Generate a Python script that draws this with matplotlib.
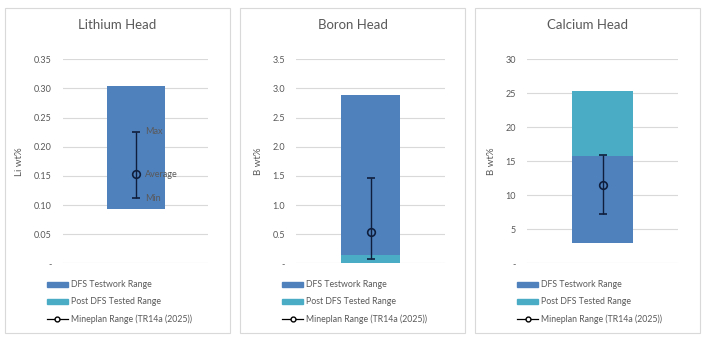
import matplotlib
matplotlib.use("Agg")
import matplotlib.pyplot as plt
from matplotlib.patches import Patch, Rectangle
from matplotlib.lines import Line2D
import numpy as np

plt.rcParams['font.family'] = ['Lato', 'DejaVu Sans']

titles = ['Lithium Head', 'Boron Head', 'Calcium Head']
ylabels = ['Li wt%', 'B wt%', 'B wt%']
dfs_low = [0.094, 0.15, 2.95]
dfs_high = [0.304, 2.88, 15.8]
post_low = [0.0, 0.01, 15.8]
post_high = [0.0, 0.15, 25.35]
mine_min = [0.112, 0.08, 7.25]
mine_avg = [0.153, 0.53, 11.45]
mine_max = [0.226, 1.47, 15.9]
y_max = [0.35, 3.5, 30]
y_step = [0.05, 0.5, 5]
y_fmt = ['{:.2f}', '{:.1f}', '{:.0f}']
annot_labels = ['Max', 'Average', 'Min']
legend_labels = ['DFS Testwork Range', 'Post DFS Tested Range', 'Mineplan Range (TR14a (2025))']

BLUE = '#4f81bd'
TEAL = '#4bacc6'
GRAY = '#595959'
GRID = '#d9d9d9'
ERR = '#0f1e3c'

W, H = 706, 339
fig = plt.figure(figsize=(W / 100, H / 100), dpi=100)

panels = [(5, 230), (240, 465), (475, 700)]
axes_x = [(63, 208), (296, 445), (527, 678)]
ax_top, ax_bot = 59.3, 263.3

for i in range(3):
    px0, px1 = panels[i]
    fig.patches.append(Rectangle((px0 / W, 1 - 333 / H), (px1 - px0) / W, (333 - 8) / H,
                                 transform=fig.transFigure, fill=False, edgecolor=GRID, lw=0.8))
    fig.text((px0 + px1) / 2 / W, 1 - 25 / H, titles[i], ha='center', va='center',
             fontsize=9.5, color=GRAY)
    x0, x1 = axes_x[i]
    ax = fig.add_axes([x0 / W, 1 - ax_bot / H, (x1 - x0) / W, (ax_bot - ax_top) / H])
    ax.set_xlim(-0.5, 0.5)
    ax.set_ylim(0, y_max[i])
    ticks = np.arange(0, y_max[i] + y_step[i] / 2, y_step[i])
    ax.set_yticks(ticks)
    ax.set_yticklabels(['-' if t == 0 else y_fmt[i].format(t) for t in ticks])
    ax.set_xticks([])
    for s in ax.spines.values():
        s.set_visible(False)
    ax.tick_params(axis='y', length=0, labelsize=6.5, labelcolor=GRAY, pad=8)
    ax.grid(axis='y', color=GRID, lw=0.8)
    ax.set_axisbelow(True)
    ax.set_ylabel(ylabels[i], fontsize=7, color=GRAY, labelpad=7)

    ax.bar(0, dfs_high[i] - dfs_low[i], bottom=dfs_low[i], width=0.4, color=BLUE, zorder=2)
    if post_high[i] > post_low[i]:
        ax.bar(0, post_high[i] - post_low[i], bottom=post_low[i], width=0.4, color=TEAL, zorder=2)
    ax.errorbar(0, mine_avg[i], yerr=[[mine_avg[i] - mine_min[i]], [mine_max[i] - mine_avg[i]]],
                fmt='o', mfc='none', mec=ERR, ms=5.5, mew=1.2, ecolor=ERR, elinewidth=1,
                capsize=3, capthick=1.2, zorder=3)
    if i == 0:
        for lab, val in zip(annot_labels, [mine_max[i], mine_avg[i], mine_min[i]]):
            ax.annotate(lab, (0, val), xytext=(7, 0), textcoords='offset points',
                        va='center', ha='left', fontsize=6.5, color=GRAY, zorder=4)

    handles = [Patch(color=BLUE), Patch(color=TEAL),
               Line2D([0], [0], color='black', lw=0.9, marker='o', mfc='white', mec='black', ms=3.5)]
    leg_x = (px0 + 42 - x0) / (x1 - x0)
    leg = ax.legend(handles, legend_labels, loc='upper left',
                    bbox_to_anchor=(leg_x, -17 / (ax_bot - ax_top)),
                    frameon=False, fontsize=6.3, labelspacing=0.92, handlelength=2.4,
                    handleheight=0.45, handletextpad=0.3, borderaxespad=0, borderpad=0)
    for t in leg.get_texts():
        t.set_color(GRAY)

fig.savefig('out.png', dpi=100, facecolor='white')
